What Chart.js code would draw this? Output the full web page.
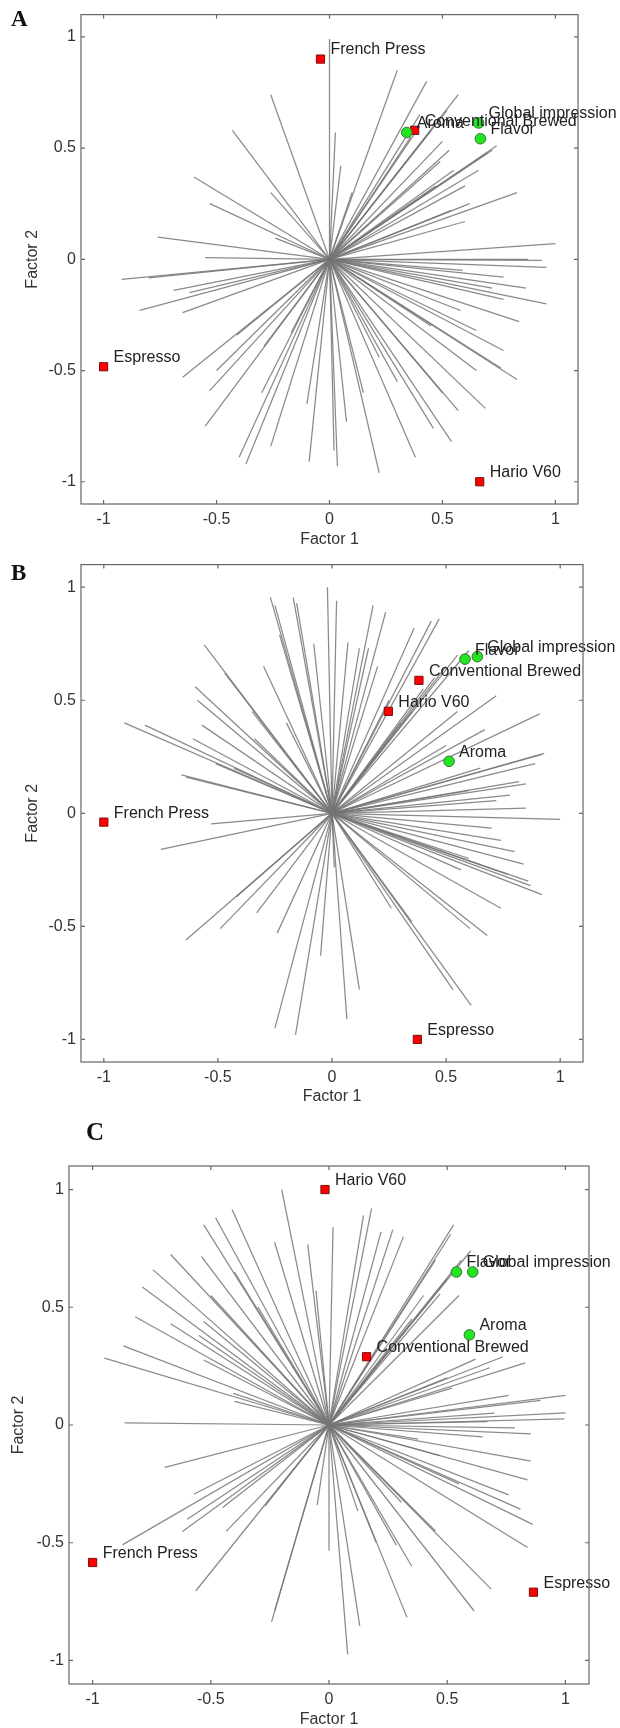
<!DOCTYPE html>
<html>
<head>
<meta charset="utf-8">
<script src="https://cdn.jsdelivr.net/npm/chart.js@4.4.1/dist/chart.umd.min.js"></script>
<style>
  body { margin: 0; background: #fff; }
  #page { position: relative; width: 620px; height: 1728px; overflow: hidden; }
  canvas { position: absolute; left: 0; }
  .tag { position: absolute; font-family: 'Liberation Serif', 'Times New Roman', serif; font-weight: bold; line-height: 1; color: #111; }
</style>
</head>
<body>
<div id="page">
  <canvas id="chartA" width="620" height="550" style="top:0"></canvas>
  <canvas id="chartB" width="620" height="560" style="top:550px"></canvas>
  <canvas id="chartC" width="620" height="628" style="top:1100px"></canvas>
  <div class="tag" style="left:11px;top:7px;font-size:23px">A</div>
  <div class="tag" style="left:11px;top:561px;font-size:23px">B</div>
  <div class="tag" style="left:86px;top:1119px;font-size:25px">C</div>
</div>
<script>
// axis ticks shared by all three panels
const axisTicks = [-1, -0.5, 0, 0.5, 1];

const prodNames = ['French Press', 'Espresso', 'Hario V60', 'Conventional Brewed'];
const attrNames = ['Aroma', 'Flavor', 'Global impression'];

// ---- Panel A ----
const prodAX = [-0.04, -1.0, 0.665, 0.377];
const prodAY = [0.90, -0.483, -1.0, 0.58];
const attrAX = [0.342, 0.668, 0.66];
const attrAY = [0.57, 0.542, 0.613];
const loadAX = [0.00, 0.30, 0.43, -0.26, 0.57, 0.52, -0.43, 0.026, 0.50, 0.53, 0.74, 0.72, 0.05, -0.60, -0.26, -0.53,
  0.83, 0.54, 0.60, -0.76, -0.24, 1.0, -0.55, 0.88, 0.94, 0.96, -0.92, -0.80, 0.59, 0.77, -0.69, -0.62, 0.72, 0.87,
  -0.84, -0.65, 0.77, 0.96, 0.58, 0.84, 0.65, -0.17, -0.41, 0.77, -0.29, -0.65, -0.50, 0.76, 0.83, -0.53, 0.22,
  0.69, 0.57, 0.46, -0.55, 0.075, 0.54, 0.38, -0.26, -0.40, -0.37, -0.09, 0.02, 0.035, 0.22,
  0.40, 0.36, 0.40, 0.45, 0.49, 0.47, 0.60, 0.55, 0.62, 0.66, 0.70, 0.45, 0.30, 0.15, -0.10, 0.50, 0.65, 0.10, -0.30];
const loadAY = [0.99, 0.85, 0.80, 0.74, 0.74, 0.67, 0.58, 0.57, 0.53, 0.49, 0.51, 0.49, 0.42, 0.37, 0.30, 0.25,
  0.30, 0.22, 0.17, 0.10, 0.095, 0.07, 0.008, 0.0, -0.005, -0.036, -0.09, -0.084, -0.05, -0.08, -0.14, -0.15, -0.13, -0.13,
  -0.23, -0.24, -0.18, -0.20, -0.23, -0.28, -0.32, -0.33, -0.34, -0.41, -0.39, -0.53, -0.50, -0.49, -0.54, -0.59, -0.44,
  -0.67, -0.68, -0.76, -0.75, -0.73, -0.82, -0.89, -0.84, -0.89, -0.92, -0.91, -0.86, -0.93, -0.96,
  0.65, 0.55, 0.60, 0.58, 0.44, 0.33, 0.33, 0.40, 0.25, 0.40, 0.48, -0.30, -0.55, -0.60, -0.65, -0.60, -0.50, 0.30, -0.60];

// ---- Panel B ----
const prodBX = [-1.0, 0.374, 0.247, 0.381];
const prodBY = [-0.039, -1.0, 0.451, 0.588];
const attrBX = [0.513, 0.583, 0.637];
const attrBY = [0.23, 0.682, 0.693];
const loadBX = [-0.02, -0.27, -0.17, -0.155, -0.25, 0.02, 0.18, 0.235, -0.23, 0.36, 0.435, 0.47, -0.56, 0.07, -0.08, 0.12,
  0.16, -0.47, -0.60, 0.72, -0.59, -0.91, -0.82, -0.57, 0.91, 0.67, -0.61, -0.34, 0.92, 0.93, 0.89, -0.51, -0.43, -0.66,
  -0.64, 0.82, 0.85, 0.72, 0.85, 1.0, -0.53, 0.70, -0.75, 0.74, 0.84, 0.565, 0.77, 0.87, 0.92, 0.74, -0.42, -0.33,
  -0.49, -0.64, 0.26, 0.605, 0.68, -0.24, 0.01, -0.05, 0.12, 0.53, 0.61, 0.065, -0.25, -0.16,
  0.55, 0.60, 0.50, 0.45, 0.40, 0.35, 0.30, 0.55, 0.50, 0.65, 0.60, 0.78, 0.80, 0.86, 0.60, 0.35, 0.25, 0.20, -0.30, -0.35, -0.20];
const loadBY = [1.0, 0.955, 0.955, 0.93, 0.92, 0.94, 0.92, 0.89, 0.79, 0.82, 0.85, 0.86, 0.745, 0.756, 0.75, 0.73,
  0.73, 0.62, 0.56, 0.52, 0.50, 0.40, 0.39, 0.39, 0.44, 0.37, 0.33, 0.33, 0.26, 0.265, 0.22, 0.22, 0.20, 0.17,
  0.16, 0.14, 0.13, 0.056, 0.023, -0.027, -0.047, -0.066, -0.16, -0.12, -0.225, -0.25, -0.27, -0.32, -0.36, -0.42, -0.37, -0.44,
  -0.51, -0.56, -0.42, -0.51, -0.54, -0.53, -0.24, -0.63, -0.78, -0.78, -0.85, -0.91, -0.95, -0.98,
  0.70, 0.72, 0.65, 0.60, 0.55, 0.45, 0.40, 0.45, 0.30, 0.20, 0.10, 0.08, -0.17, -0.30, -0.20, -0.48, 0.50, 0.65, 0.65, 0.45, 0.40];

// ---- Panel C ----
const prodCX = [-1.0, 0.865, -0.017, 0.159];
const prodCY = [-0.584, -0.71, 1.0, 0.29];
const attrCX = [0.594, 0.539, 0.608];
const attrCY = [0.383, 0.65, 0.65];
const loadCX = [-0.20, 0.017, -0.41, -0.53, -0.48, -0.23, 0.18, 0.146, 0.22, 0.27, 0.315, 0.527, 0.515, 0.60, 0.56, -0.67,
  -0.745, -0.54, -0.79, -0.09, -0.055, -0.82, -0.67, -0.53, 0.47, -0.87, -0.95, -0.53, -0.405, 0.736, 0.68, 0.83,
  0.52, 0.76, 1.0, 0.895, 1.0, 0.996, -0.865, 0.67, 0.787, 0.854, 0.377, 0.47, 0.854, -0.695, 0.84, 0.76, -0.57,
  -0.27, -0.05, 0.81, 0.862, 0.0, -0.62, -0.435, -0.874, 0.306, 0.122, 0.84, -0.564, 0.686, 0.614, 0.33, -0.23,
  -0.243, 0.13, 0.079, 0.285, 0.45, 0.50, 0.40, 0.35, 0.55, 0.62, 0.50, 0.70, 0.65, 0.55, 0.45, -0.30, -0.50, -0.40,
  -0.55, -0.40, -0.60, -0.45, 0.20, 0.35];
const loadCY = [1.0, 0.84, 0.915, 0.85, 0.88, 0.776, 0.92, 0.89, 0.82, 0.83, 0.80, 0.85, 0.81, 0.74, 0.70, 0.724,
  0.66, 0.716, 0.586, 0.767, 0.57, 0.46, 0.43, 0.44, 0.557, 0.336, 0.284, 0.276, 0.134, 0.29, 0.243, 0.264,
  0.157, 0.126, 0.126, 0.105, 0.052, 0.026, 0.009, 0.014, -0.012, -0.038, -0.06, -0.13, -0.153, -0.18, -0.233, -0.297, -0.293,
  -0.343, -0.34, -0.357, -0.422, -0.534, -0.452, -0.452, -0.509, -0.328, -0.366, -0.52, -0.705, -0.697, -0.79, -0.817, -0.79,
  -0.836, -0.853, -0.974, -0.51, 0.70, 0.62, 0.55, 0.45, 0.55, 0.28, 0.20, 0.05, -0.05, -0.25, -0.45, 0.50, 0.55, 0.65,
  0.38, 0.10, -0.40, -0.35, -0.50, -0.60];

const fontFamily = "'Liberation Sans', Arial, sans-serif";
const textColor = '#333';

// frame with inward tick marks on all four sides
const framePlugin = {
  id: 'frame',
  afterDraw(chart) {
    const ctx = chart.ctx;
    const a = chart.chartArea;
    const xs = chart.scales.x, ys = chart.scales.y;
    ctx.save();
    ctx.strokeStyle = '#666';
    ctx.lineWidth = 1.2;
    ctx.strokeRect(a.left, a.top, a.right - a.left, a.bottom - a.top);
    ctx.beginPath();
    axisTicks.forEach(v => {
      const px = xs.getPixelForValue(v);
      ctx.moveTo(px, a.bottom); ctx.lineTo(px, a.bottom - 4);
      ctx.moveTo(px, a.top); ctx.lineTo(px, a.top + 4);
      const py = ys.getPixelForValue(v);
      ctx.moveTo(a.left, py); ctx.lineTo(a.left + 4, py);
      ctx.moveTo(a.right, py); ctx.lineTo(a.right - 4, py);
    });
    ctx.stroke();
    ctx.restore();
  }
};

// text next to each product / attribute marker
const pointLabelPlugin = {
  id: 'pointLabels',
  afterDatasetsDraw(chart) {
    const ctx = chart.ctx;
    ctx.save();
    ctx.font = '16px ' + fontFamily;
    ctx.fillStyle = '#222';
    ctx.textAlign = 'left';
    ctx.textBaseline = 'middle';
    chart.data.datasets.forEach((ds, i) => {
      if (!ds.names) return;
      const meta = chart.getDatasetMeta(i);
      meta.data.forEach((pt, j) => {
        ctx.fillText(ds.names[j], pt.x + 10, pt.y - 9);
      });
    });
    ctx.restore();
  }
};

function makePanel(id, p) {
  const datasets = [];
  datasets.push({
    names: attrNames,
    data: p.ax.map((v, i) => ({ x: v, y: p.ay[i] })),
    pointStyle: 'circle',
    pointRadius: 5.3,
    backgroundColor: '#22e622',
    borderColor: '#3b6e3b',
    borderWidth: 1,
    clip: false,
    order: 0
  });
  datasets.push({
    names: prodNames,
    data: p.px.map((v, i) => ({ x: v, y: p.py[i] })),
    pointStyle: 'rect',
    pointRadius: 5.8,
    backgroundColor: '#ff0000',
    borderColor: '#7a1010',
    borderWidth: 1,
    clip: false,
    order: 0
  });
  p.lx.forEach((v, i) => {
    datasets.push({
      data: [{ x: 0, y: 0 }, { x: v, y: p.ly[i] }],
      showLine: true,
      pointRadius: 0,
      borderColor: 'rgba(118,118,118,0.85)',
      borderWidth: 1.25,
      order: 1
    });
  });

  new Chart(document.getElementById(id), {
    type: 'scatter',
    data: { datasets: datasets },
    options: {
      responsive: false,
      animation: false,
      events: [],
      layout: { padding: { top: p.padTop, right: p.padRight, left: 0, bottom: 0 } },
      plugins: { legend: { display: false }, tooltip: { enabled: false } },
      scales: {
        x: {
          min: -1.1, max: 1.1,
          afterBuildTicks: s => { s.ticks = axisTicks.map(v => ({ value: v })); },
          afterFit: s => { s.height = p.xHeight; },
          grid: { display: false, drawTicks: false },
          border: { display: false },
          ticks: { padding: 6, color: textColor, font: { family: fontFamily, size: 16 }, callback: v => String(v), maxRotation: 0 },
          title: { display: true, text: 'Factor 1', color: textColor, font: { family: fontFamily, size: 16 }, padding: { top: 0, bottom: p.xTitlePad } }
        },
        y: {
          min: -1.1, max: 1.1,
          afterBuildTicks: s => { s.ticks = axisTicks.map(v => ({ value: v })); },
          afterFit: s => { s.width = p.yWidth; },
          grid: { display: false, drawTicks: false },
          border: { display: false },
          ticks: { padding: 5, color: textColor, font: { family: fontFamily, size: 16 }, callback: v => String(v) },
          title: { display: true, text: 'Factor 2', color: textColor, font: { family: fontFamily, size: 16 }, padding: { top: p.yTitlePad, bottom: 0 } }
        }
      }
    },
    plugins: [framePlugin, pointLabelPlugin]
  });
}

makePanel('chartA', { px: prodAX, py: prodAY, ax: attrAX, ay: attrAY, lx: loadAX, ly: loadAY,
  padTop: 7, padRight: 42, xHeight: 46, yWidth: 81, xTitlePad: 1, yTitlePad: 23 });
makePanel('chartB', { px: prodBX, py: prodBY, ax: attrBX, ay: attrBY, lx: loadBX, ly: loadBY,
  padTop: 10, padRight: 37, xHeight: 48, yWidth: 81, xTitlePad: 4, yTitlePad: 23 });
makePanel('chartC', { px: prodCX, py: prodCY, ax: attrCX, ay: attrCY, lx: loadCX, ly: loadCY,
  padTop: 66, padRight: 31, xHeight: 44, yWidth: 69, xTitlePad: -1, yTitlePad: 9 });
</script>
</body>
</html>
